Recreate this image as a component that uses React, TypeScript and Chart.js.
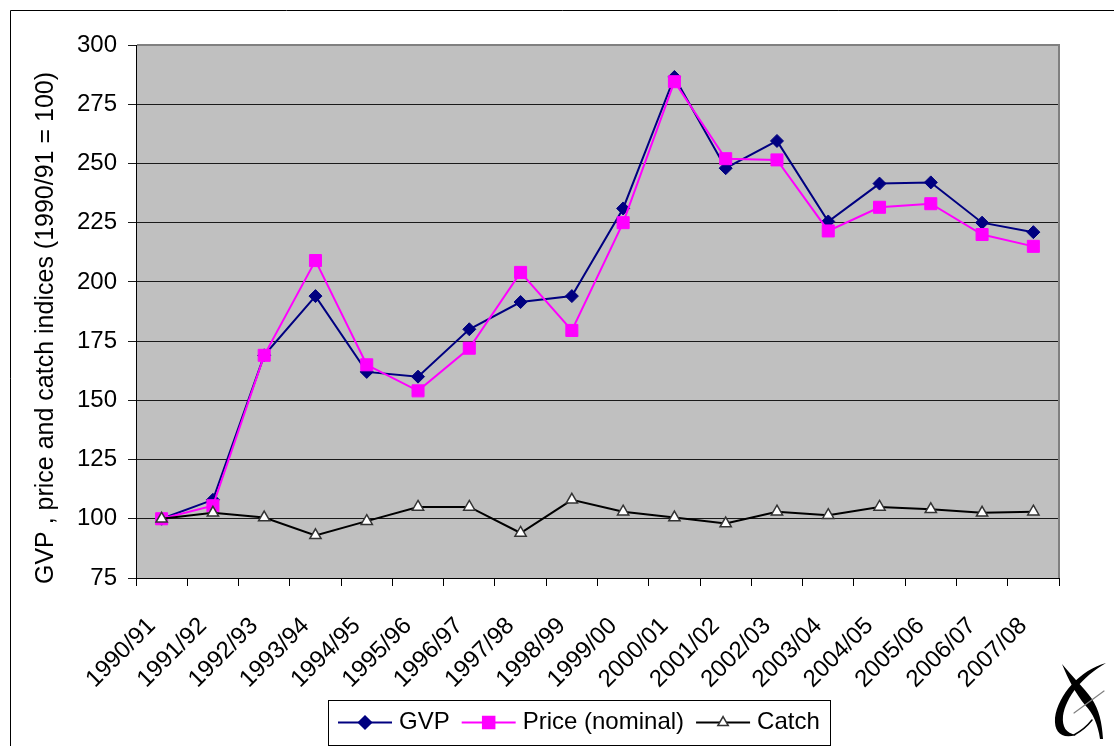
import React, { useEffect, useRef } from 'react';
import { Chart, registerables } from 'chart.js';

Chart.register(...registerables);

// Seasons on the category axis
const seasons = [
  '1990/91', '1991/92', '1992/93', '1993/94', '1994/95', '1995/96',
  '1996/97', '1997/98', '1998/99', '1999/00', '2000/01', '2001/02',
  '2002/03', '2003/04', '2004/05', '2005/06', '2006/07', '2007/08',
];

// Indices, 1990/91 = 100
const gvpIndex = [100, 108, 169, 194, 162, 160, 180, 191.5, 194, 231, 286.5, 248, 259.5, 225.5, 241.5, 242, 225, 221];
const priceIndex = [100, 105.5, 169, 209, 165, 154, 172, 204, 179.5, 225, 284.5, 252, 251.5, 221.5, 231.5, 233, 220, 215];
const catchIndex = [100, 102.5, 100.5, 93, 99, 105, 105, 94, 108, 103, 100.5, 98, 103, 101.5, 105, 104, 102.5, 103];

// Value axis
const yMin = 75;
const yMax = 300;
const yStep = 25;

const yTitle = 'GVP , price and catch indices (1990/91 = 100)';
const seriesNames = ['GVP', 'Price (nominal)', 'Catch'];

const FONT = "'Liberation Sans', Arial, Helvetica, sans-serif";
const W = 1114;
const H = 746;

type Marker = 'diamond' | 'square' | 'triangle';

function drawMarker(ctx: CanvasRenderingContext2D, kind: Marker, x: number, y: number, fill: string, stroke: string) {
  ctx.save();
  ctx.beginPath();
  if (kind === 'diamond') {
    const r = 6.5;
    ctx.moveTo(x, y - r);
    ctx.lineTo(x + r, y);
    ctx.lineTo(x, y + r);
    ctx.lineTo(x - r, y);
    ctx.closePath();
  } else if (kind === 'square') {
    const s = 6;
    ctx.rect(x - s, y - s, 2 * s, 2 * s);
  } else {
    const r = 6;
    ctx.moveTo(x, y - r);
    ctx.lineTo(x + r * 0.866, y + r * 0.5);
    ctx.lineTo(x - r * 0.866, y + r * 0.5);
    ctx.closePath();
  }
  ctx.fillStyle = fill;
  ctx.fill();
  ctx.lineWidth = 1.5;
  ctx.strokeStyle = stroke;
  ctx.stroke();
  ctx.restore();
}

const legendStyles: { color: string; marker: Marker; fill: string; stroke: string }[] = [
  { color: '#000080', marker: 'diamond', fill: '#000080', stroke: '#000080' },
  { color: '#FF00FF', marker: 'square', fill: '#FF00FF', stroke: '#FF00FF' },
  { color: '#000000', marker: 'triangle', fill: '#FFFFFF', stroke: '#333333' },
];

// Page frame and grey plot background
const backdropPlugin = {
  id: 'backdrop',
  beforeDraw(chart: Chart) {
    const { ctx, chartArea } = chart;
    ctx.save();
    ctx.fillStyle = '#FFFFFF';
    ctx.fillRect(0, 0, W, H);
    ctx.strokeStyle = '#000000';
    ctx.lineWidth = 1;
    ctx.beginPath();
    ctx.moveTo(10.5, H + 2);
    ctx.lineTo(10.5, 10.5);
    ctx.lineTo(W + 2, 10.5);
    ctx.stroke();
    ctx.fillStyle = '#C0C0C0';
    ctx.fillRect(chartArea.left, chartArea.top, chartArea.right - chartArea.left, chartArea.bottom - chartArea.top);
    ctx.restore();
  },
  beforeDatasetsDraw(chart: Chart) {
    const { ctx, chartArea } = chart;
    ctx.save();
    ctx.strokeStyle = '#808080';
    ctx.lineWidth = 2;
    ctx.beginPath();
    ctx.moveTo(chartArea.left + 1, chartArea.top);
    ctx.lineTo(chartArea.right, chartArea.top);
    ctx.lineTo(chartArea.right, chartArea.bottom);
    ctx.stroke();
    ctx.restore();
  },
};

// Value-axis caption, boxed legend under the axis and the corner mark
const legendPlugin = {
  id: 'boxLegend',
  afterDraw(chart: Chart) {
    const { ctx } = chart;
    ctx.save();

    // rotated axis caption
    ctx.save();
    ctx.translate(46, 328);
    ctx.rotate(-Math.PI / 2);
    ctx.font = `25px ${FONT}`;
    ctx.fillStyle = '#000000';
    ctx.textAlign = 'center';
    ctx.textBaseline = 'middle';
    ctx.fillText(yTitle, 0, 0);
    ctx.restore();

    ctx.font = `24px ${FONT}`;
    const lineLen = 54;
    const gapText = 7;
    const gapItem = 12;
    const pad = 10;
    const widths = seriesNames.map((n) => ctx.measureText(n).width);
    const total = pad * 2 + widths.reduce((a, b) => a + b, 0) + seriesNames.length * (lineLen + gapText) + gapItem * (seriesNames.length - 1);
    const boxLeft = Math.round(579 - total / 2);
    const boxTop = 700;
    const boxH = 45;
    ctx.strokeStyle = '#000000';
    ctx.lineWidth = 1;
    ctx.strokeRect(boxLeft + 0.5, boxTop + 0.5, Math.round(total), boxH);
    const cy = boxTop + boxH / 2;
    let x = boxLeft + pad;
    seriesNames.forEach((name, i) => {
      const st = legendStyles[i];
      ctx.strokeStyle = st.color;
      ctx.lineWidth = 2;
      ctx.beginPath();
      ctx.moveTo(x, cy);
      ctx.lineTo(x + lineLen, cy);
      ctx.stroke();
      drawMarker(ctx, st.marker, x + lineLen / 2, cy, st.fill, st.stroke);
      x += lineLen + gapText;
      ctx.fillStyle = '#000000';
      ctx.textBaseline = 'middle';
      ctx.textAlign = 'left';
      ctx.fillText(name, x, cy);
      x += widths[i] + gapItem;
    });

    // corner mark: a sweeping crescent crossed by a second stroke
    ctx.fillStyle = '#000000';
    ctx.beginPath();
    ctx.moveTo(1106, 663);
    ctx.bezierCurveTo(1080, 670, 1058, 695, 1055, 718);
    ctx.bezierCurveTo(1054, 733, 1062, 739, 1076, 735);
    ctx.bezierCurveTo(1066, 733, 1062, 727, 1063, 716);
    ctx.bezierCurveTo(1066, 697, 1082, 677, 1106, 663);
    ctx.closePath();
    ctx.fill();

    ctx.beginPath();
    ctx.moveTo(1062, 664);
    ctx.bezierCurveTo(1072, 676, 1084, 688, 1092, 699);
    ctx.bezierCurveTo(1099, 710, 1102, 722, 1103, 739);
    ctx.lineTo(1100, 739);
    ctx.bezierCurveTo(1098, 725, 1093, 713, 1085, 705);
    ctx.bezierCurveTo(1076, 694, 1068, 679, 1062, 664);
    ctx.closePath();
    ctx.fill();

    ctx.strokeStyle = '#000000';
    ctx.lineCap = 'round';
    ctx.lineWidth = 1.5;
    ctx.beginPath();
    ctx.moveTo(1074, 735);
    ctx.quadraticCurveTo(1085, 729, 1092, 720);
    ctx.stroke();

    ctx.strokeStyle = '#808080';
    ctx.lineWidth = 1.2;
    ctx.beginPath();
    ctx.moveTo(1074, 713);
    ctx.lineTo(1104, 691);
    ctx.stroke();
    ctx.restore();
  },
};

export default function App() {
  const canvasRef = useRef<HTMLCanvasElement | null>(null);

  useEffect(() => {
    if (!canvasRef.current) return;
    const chart = new Chart(canvasRef.current, {
      type: 'line',
      data: {
        labels: seasons,
        datasets: [
          {
            label: seriesNames[0],
            data: gvpIndex,
            borderColor: '#000080',
            backgroundColor: '#000080',
            borderWidth: 2,
            pointStyle: 'rectRot',
            pointRadius: 6.5,
            pointBorderWidth: 1,
            pointBackgroundColor: '#000080',
            pointBorderColor: '#000080',
            tension: 0,
            order: 3,
          },
          {
            label: seriesNames[1],
            data: priceIndex,
            borderColor: '#FF00FF',
            backgroundColor: '#FF00FF',
            borderWidth: 2,
            pointStyle: 'rect',
            pointRadius: 8.5,
            pointBorderWidth: 1,
            pointBackgroundColor: '#FF00FF',
            pointBorderColor: '#FF00FF',
            tension: 0,
            order: 2,
          },
          {
            label: seriesNames[2],
            data: catchIndex,
            borderColor: '#000000',
            backgroundColor: '#FFFFFF',
            borderWidth: 2,
            pointStyle: 'triangle',
            pointRadius: 6.5,
            pointBorderWidth: 1.5,
            pointBackgroundColor: '#FFFFFF',
            pointBorderColor: '#333333',
            tension: 0,
            order: 1,
          },
        ],
      },
      options: {
        responsive: false,
        animation: false,
        devicePixelRatio: 1,
        layout: { padding: { left: 12, right: 55, top: 45, bottom: 0 } },
        plugins: {
          legend: { display: false },
          tooltip: { enabled: false },
          title: { display: false },
        },
        scales: {
          x: {
            type: 'category',
            offset: true,
            grid: {
              display: true,
              offset: true,
              drawOnChartArea: false,
              drawTicks: true,
              tickLength: 8,
              color: '#000000',
              lineWidth: 1,
            },
            border: { display: true, color: '#000000', width: 1 },
            ticks: {
              autoSkip: false,
              minRotation: 45,
              maxRotation: 45,
              padding: 26,
              labelOffset: -10,
              color: '#000000',
              font: { family: FONT, size: 24 },
            },
            afterFit(scale: any) {
              scale.height = 168;
            },
          },
          y: {
            min: yMin,
            max: yMax,
            ticks: {
              stepSize: yStep,
              padding: 11,
              color: '#000000',
              font: { family: FONT, size: 24 },
            },
            grid: {
              color: '#1a1a1a',
              lineWidth: 1,
              drawTicks: true,
              tickLength: 8,
            },
            border: { display: true, color: '#000000', width: 1 },
            title: { display: false },
            afterFit(scale: any) {
              scale.width = 124;
            },
          },
        },
      },
      plugins: [backdropPlugin, legendPlugin],
    });
    return () => chart.destroy();
  }, []);

  return (
    <div style={{ position: 'absolute', left: 0, top: 0, width: W, height: H, overflow: 'hidden', background: '#fff' }}>
      <canvas ref={canvasRef} width={W} height={H} style={{ display: 'block', width: W, height: H }} />
    </div>
  );
}
